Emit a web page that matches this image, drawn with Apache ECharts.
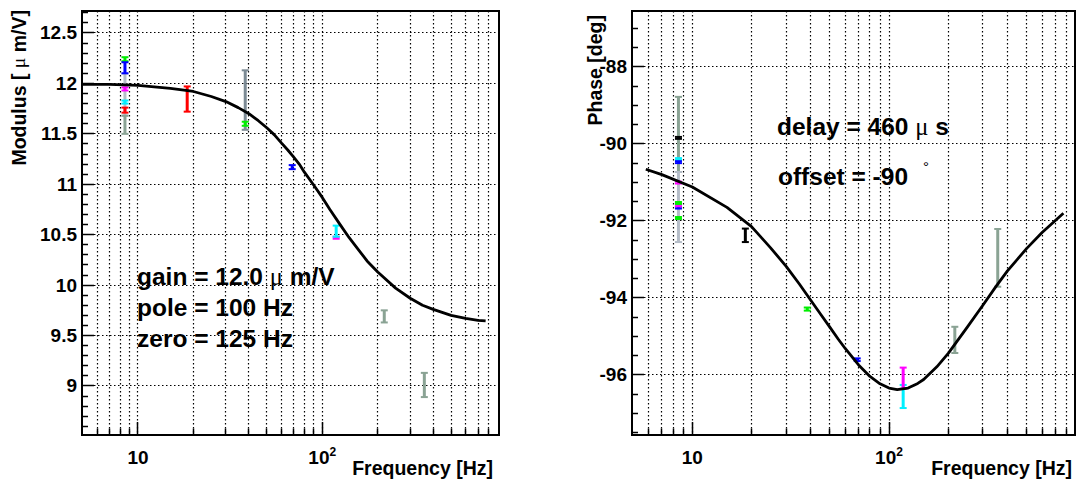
<!DOCTYPE html>
<html><head><meta charset="utf-8">
<script src="https://cdn.jsdelivr.net/npm/echarts@6/dist/echarts.min.js"></script>
<style>html,body{margin:0;padding:0;background:#fff}#c{width:1076px;height:483px}</style>
</head><body><div id="c"></div>
<script>
// ================= DATA =================
// Fit curves
const modCurveFreq = [5, 7, 10, 15, 20, 25, 30, 35, 40, 45, 50, 55, 60, 65, 70, 75, 80, 90, 100, 110, 125, 140, 150, 175, 200, 250, 300, 350, 400, 500, 600, 700, 770];
const modCurveVal  = [11.99, 11.99, 11.98, 11.95, 11.92, 11.87, 11.82, 11.76, 11.70, 11.63, 11.56, 11.49, 11.41, 11.34, 11.27, 11.20, 11.12, 10.99, 10.87, 10.75, 10.60, 10.47, 10.40, 10.24, 10.13, 9.97, 9.87, 9.80, 9.76, 9.70, 9.67, 9.65, 9.645];
const phaseCurveFreq = [5.8, 7, 10, 15, 20, 25, 30, 35, 40, 45, 50, 55, 60, 70, 80, 90, 100, 110, 125, 140, 150, 175, 200, 250, 300, 350, 400, 500, 600, 770];
const phaseCurveVal  = [-90.66, -90.80, -91.12, -91.65, -92.15, -92.70, -93.18, -93.64, -94.06, -94.43, -94.76, -95.06, -95.32, -95.74, -96.04, -96.23, -96.34, -96.38, -96.34, -96.22, -96.12, -95.79, -95.44, -94.76, -94.19, -93.70, -93.30, -92.72, -92.30, -91.80];

// Measurements: [frequency, low, high]
const modSilver    = [[8.5, 11.68, 12.10]];
const modGreyGreen = [[8.5, 11.50, 11.68], [217, 9.63, 9.75], [358, 8.89, 9.13]];
const modSlate     = [[38.2, 11.54, 12.13]];
const modGreen     = [[8.5, 12.22, 12.26], [38.2, 11.58, 11.62]];
const modBlue      = [[8.5, 12.10, 12.21], [68.7, 11.15, 11.19]];
const modMagenta   = [[8.5, 11.93, 11.96], [119, 10.46, 10.48]];
const modCyan      = [[8.5, 11.80, 11.83], [119, 10.48, 10.59]];
const modRed       = [[8.5, 11.71, 11.76], [18.5, 11.72, 11.97]];

const phaseGreyGreen = [[8.5, -90.73, -88.78], [216, -95.43, -94.75], [357, -93.71, -92.21]];
const phaseSilver    = [[8.5, -92.55, -90.73]];
const phaseBlack     = [[8.5, -89.87, -89.82], [18.6, -92.55, -92.20]];
const phaseCyan      = [[8.5, -90.42, -90.37], [118, -96.86, -96.26]];
const phaseBlue      = [[8.5, -90.50, -90.45], [8.5, -91.68, -91.63], [68.9, -95.64, -95.57]];
const phaseMagenta   = [[8.5, -91.03, -90.98], [8.5, -91.62, -91.57], [118, -96.36, -95.81]];
const phaseGreen     = [[8.5, -91.56, -91.51], [8.5, -91.95, -91.90], [38.4, -94.33, -94.25]];

// Axis ticks / grid
const freqGridLines = [6, 7, 8, 9, 10, 20, 30, 40, 50, 60, 70, 80, 90, 100, 200, 300, 400, 500, 600, 700, 800, 900];
const freqMajorTicks = [10, 100];
const modMajorTicks = [9, 9.5, 10, 10.5, 11, 11.5, 12, 12.5];
const phaseMajorTicks = [-96, -94, -92, -90, -88];

// ================= STYLE / LAYOUT =================
const FONT = '"Liberation Sans", Arial, Helvetica, sans-serif';
const SYM = '"Liberation Serif", "Times New Roman", serif';
const modMinorTicks = [];
for (let k = 86; k <= 127; k++) { if (k % 5) modMinorTicks.push(k / 10); }
const phaseMinorTicks = [];
for (let k = -195; k <= -173; k++) { if (k % 4) phaseMinorTicks.push(k / 2); }

const colors = {
  silver: '#b5bdc8', greygreen: '#8aa394', slate: '#7c8a94', green: '#00ee00',
  blue: '#0000ff', magenta: '#ff00ff', cyan: '#00f0ff', red: '#ff0000', black: '#000000'
};

function crisp(v) { return Math.round(v - 0.5) + 0.5; }

function makeFrame(xIdx, yIdx, yMajor, yMinor, refY) {
  return {
    type: 'custom', xAxisIndex: xIdx, yAxisIndex: yIdx, clip: false, silent: true, z: 1,
    data: [[100, refY]],
    renderItem: function (params, api) {
      const cs = params.coordSys;
      const L = cs.x, T = cs.y, R = cs.x + cs.width, B = cs.y + cs.height;
      const ch = [];
      const dotted = { stroke: '#000', lineWidth: 1.2, lineDash: [1.5, 2.5] };
      const solid = { stroke: '#000', lineWidth: 1.5 };
      freqGridLines.forEach(function (f) {
        const x0 = api.coord([f, refY])[0];
        if (x0 <= L + 1 || x0 >= R - 1) return;
        const x = crisp(x0);
        ch.push({ type: 'line', shape: { x1: x, y1: T, x2: x, y2: B }, style: dotted });
        const len = freqMajorTicks.indexOf(f) >= 0 ? 13 : 6.5;
        ch.push({ type: 'line', shape: { x1: x, y1: B, x2: x, y2: B - len }, style: solid });
      });
      yMajor.forEach(function (v) {
        const y = crisp(api.coord([100, v])[1]);
        ch.push({ type: 'line', shape: { x1: L, y1: y, x2: R, y2: y }, style: dotted });
        ch.push({ type: 'line', shape: { x1: L, y1: y, x2: L + 12, y2: y }, style: solid });
      });
      yMinor.forEach(function (v) {
        const y0 = api.coord([100, v])[1];
        if (y0 <= T + 1 || y0 >= B - 1) return;
        const y = crisp(y0);
        ch.push({ type: 'line', shape: { x1: L, y1: y, x2: L + 6, y2: y }, style: solid });
      });
      ch.push({ type: 'rect', shape: { x: L, y: T, width: R - L, height: B - T },
        style: { fill: 'none', stroke: '#000', lineWidth: 2 } });
      return { type: 'group', children: ch };
    }
  };
}

function errorBars(xIdx, yIdx, data, color) {
  return {
    type: 'custom', xAxisIndex: xIdx, yAxisIndex: yIdx, z: 3, silent: true,
    encode: { x: 0, y: [1, 2] },
    itemStyle: { color: color },
    data: data,
    renderItem: function (params, api) {
      const f = api.value(0), lo = api.value(1), hi = api.value(2);
      const a = api.coord([f, lo]), b = api.coord([f, hi]);
      const c = color;
      return { type: 'group', children: [
        { type: 'line', shape: { x1: a[0], y1: a[1], x2: b[0], y2: b[1] }, style: { stroke: c, lineWidth: 3 } },
        { type: 'line', shape: { x1: a[0] - 3.5, y1: a[1], x2: a[0] + 3.5, y2: a[1] }, style: { stroke: c, lineWidth: 2 } },
        { type: 'line', shape: { x1: b[0] - 3.5, y1: b[1], x2: b[0] + 3.5, y2: b[1] }, style: { stroke: c, lineWidth: 2 } }
      ] };
    }
  };
}

function curve(xIdx, yIdx, fx, fy) {
  return {
    type: 'line', xAxisIndex: xIdx, yAxisIndex: yIdx, z: 5, silent: true,
    showSymbol: false, smooth: false,
    lineStyle: { color: '#000', width: 2.8, join: 'round' },
    data: fx.map(function (f, i) { return [f, fy[i]]; })
  };
}

const tickLabelStyle = { color: '#000', fontFamily: FONT, fontWeight: 'bold', fontSize: 19 };
function xAxisDef(gridIndex, min, max) {
  return {
    type: 'log', logBase: 10, gridIndex: gridIndex, min: min, max: max,
    axisLine: { show: false }, axisTick: { show: false }, splitLine: { show: false }, minorTick: { show: false },
    axisLabel: Object.assign({}, tickLabelStyle, {
      margin: 11,
      formatter: function (v) {
        const e = Math.log10(v), r = Math.round(e);
        if (Math.abs(e - r) > 1e-6) return '';
        if (r === 1) return '{b|10}';
        if (r === 2) return '{b|10}{s|2}';
        return '';
      },
      rich: {
        b: { color: '#000', fontFamily: FONT, fontWeight: 'bold', fontSize: 19, lineHeight: 22 },
        s: { color: '#000', fontFamily: FONT, fontWeight: 'bold', fontSize: 12, lineHeight: 22, verticalAlign: 'top' }
      }
    })
  };
}
function yAxisDef(gridIndex, min, max, splitNumber, fmt) {
  return {
    type: 'value', gridIndex: gridIndex, min: min, max: max, splitNumber: splitNumber,
    axisLine: { show: false }, axisTick: { show: false }, splitLine: { show: false },
    axisLabel: Object.assign({}, tickLabelStyle, { margin: 5, formatter: fmt })
  };
}

function txt(x, y, text, size, align, rot, extra) {
  return {
    type: 'text', x: x, y: y, rotation: rot || 0, silent: true,
    style: Object.assign({
      text: text, fill: '#000', fontFamily: FONT, fontWeight: 'bold', fontSize: size,
      align: align, verticalAlign: 'middle',
      rich: { m: { fill: '#000', fontFamily: SYM, fontWeight: 'normal', fontSize: size } }
    }, extra || {})
  };
}

const chart = echarts.init(document.getElementById('c'), null, { renderer: 'svg' });
chart.setOption({
  animation: false,
  backgroundColor: '#fff',
  grid: [
    { left: 82, top: 11, width: 417, height: 424, containLabel: false, outerBoundsMode: 'none' },
    { left: 632, top: 11, width: 443, height: 424, containLabel: false, outerBoundsMode: 'none' }
  ],
  xAxis: [xAxisDef(0, 4.97, 910), xAxisDef(1, 4.935, 882)],
  yAxis: [
    yAxisDef(0, 8.514, 12.718, 8, function (v) {
      const k = v * 2; return Math.abs(k - Math.round(k)) < 1e-6 ? String(+v.toFixed(1)) : '';
    }),
    yAxisDef(1, -97.56, -86.55, 5, function (v) {
      const r = Math.round(v); return (Math.abs(v - r) < 1e-6 && r % 2 === 0) ? String(r) : '';
    })
  ],
  series: [
    makeFrame(0, 0, modMajorTicks, modMinorTicks, 10),
    makeFrame(1, 1, phaseMajorTicks, phaseMinorTicks, -92),
    errorBars(0, 0, modSilver, colors.silver),
    errorBars(0, 0, modGreyGreen, colors.greygreen),
    errorBars(0, 0, modSlate, colors.slate),
    errorBars(0, 0, modGreen, colors.green),
    errorBars(0, 0, modBlue, colors.blue),
    errorBars(0, 0, modMagenta, colors.magenta),
    errorBars(0, 0, modCyan, colors.cyan),
    errorBars(0, 0, modRed, colors.red),
    errorBars(1, 1, phaseGreyGreen, colors.greygreen),
    errorBars(1, 1, phaseSilver, colors.silver),
    errorBars(1, 1, phaseBlack, colors.black),
    errorBars(1, 1, phaseCyan, colors.cyan),
    errorBars(1, 1, phaseBlue, colors.blue),
    errorBars(1, 1, phaseMagenta, colors.magenta),
    errorBars(1, 1, phaseGreen, colors.green),
    curve(0, 0, modCurveFreq, modCurveVal),
    curve(1, 1, phaseCurveFreq, phaseCurveVal)
  ],
  graphic: [
    txt(18.5, 10, 'Modulus [ {m|μ} m/V]', 19.5, 'right', Math.PI / 2),
    txt(595, 15, 'Phase [deg]', 19.5, 'right', Math.PI / 2),
    txt(493, 468, 'Frequency [Hz]', 19.5, 'right'),
    txt(1072, 468, 'Frequency [Hz]', 19.5, 'right'),
    txt(137, 276, 'gain = 12.0 {m|μ} m/V', 24.5, 'left'),
    txt(137, 307, 'pole = 100 Hz', 24.5, 'left'),
    txt(137, 338, 'zero = 125 Hz', 24.5, 'left'),
    txt(777, 126, 'delay = 460 {m|μ} s', 24.5, 'left'),
    txt(778, 176, 'offset = -90', 24.5, 'left'),
    txt(926, 166, '°', 15, 'center', 0, { fontWeight: 'normal' })
  ]
});
</script></body></html>
